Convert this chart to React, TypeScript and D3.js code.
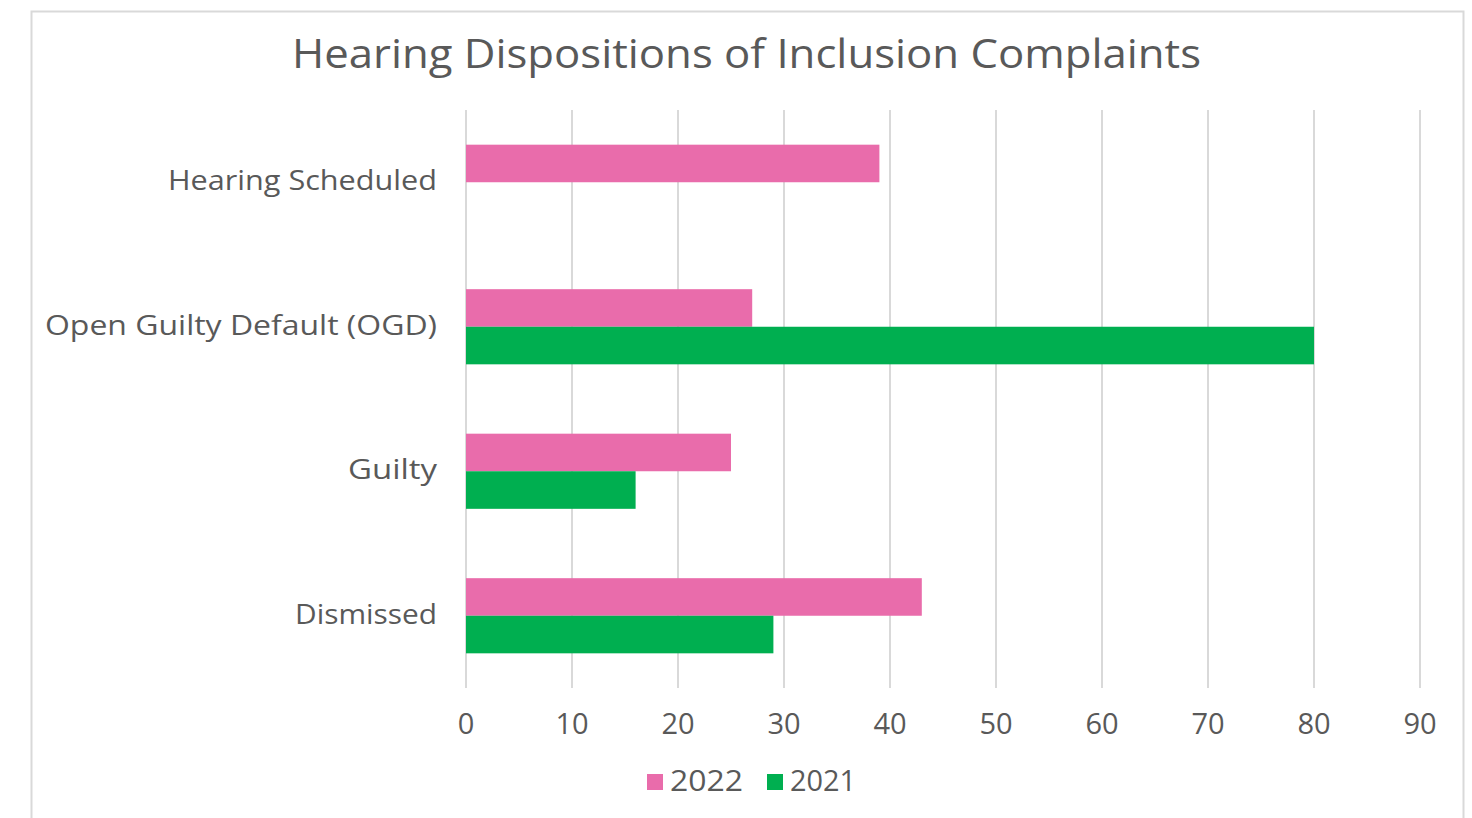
import React, { useEffect, useRef } from 'react';
import * as d3 from 'd3';

const categories = ['Hearing Scheduled', 'Open Guilty Default (OGD)', 'Guilty', 'Dismissed'];
const seriesNames = ['2022', '2021'];
const values2022 = [39, 27, 25, 43];
const values2021 = [null, 80, 16, 29];
const xTicks = [0, 10, 20, 30, 40, 50, 60, 70, 80, 90];
const colors = ['#E96CAB', '#00AF50'];

// widths of the wider original face, so Open Sans is stretched to fit
const labelWidths = [269, 392, 89, 142];
const legendWidths = [73, 66];

const W = 1472, H = 818;
const FONT = '"Open Sans", "Noto Sans", sans-serif';
const TEXT = '#595959';

export default function App() {
  const ref = useRef<SVGSVGElement>(null);

  useEffect(() => {
    const svg = d3.select(ref.current);
    svg.selectAll('*').remove();

    // outer frame
    svg.append('rect')
      .attr('x', 31.5).attr('y', 11.5).attr('width', 1432).attr('height', 830)
      .attr('fill', '#fff').attr('stroke', '#D9D9D9').attr('stroke-width', 2);

    const x = d3.scaleLinear().domain([0, 90]).range([466, 1420]);
    const y = d3.scaleBand().domain(categories).range([110, 688]).paddingInner(0.48).paddingOuter(0.24);
    const sub = d3.scaleBand().domain(seriesNames).range([0, y.bandwidth()]);

    // grid
    svg.append('g').selectAll('line').data(xTicks).join('line')
      .attr('x1', d => x(d)).attr('x2', d => x(d))
      .attr('y1', 110).attr('y2', 688)
      .attr('stroke', '#D9D9D9').attr('stroke-width', 2);

    const rows = categories.map((c, i) => ({ c, vals: [values2022[i], values2021[i]] }));
    const g = svg.append('g');
    rows.forEach(r => {
      r.vals.forEach((v, j) => {
        if (v == null) return;
        g.append('rect')
          .attr('x', x(0))
          .attr('y', (y(r.c) as number) + (sub(seriesNames[j]) as number))
          .attr('width', x(v) - x(0))
          .attr('height', sub.bandwidth())
          .attr('fill', colors[j]);
      });
    });

    // category labels
    svg.append('g').selectAll('text').data(categories).join('text')
      .attr('x', 437).attr('y', d => (y(d) as number) + y.bandwidth() / 2 - 2)
      .attr('dy', '0.35em').attr('text-anchor', 'end')
      .attr('textLength', (d, i) => labelWidths[i]).attr('lengthAdjust', 'spacingAndGlyphs')
      .attr('font-family', FONT).attr('font-size', 28).attr('fill', TEXT)
      .text(d => d);

    // x tick labels
    svg.append('g').selectAll('text').data(xTicks).join('text')
      .attr('x', d => x(d)).attr('y', 724).attr('dy', '0.35em')
      .attr('text-anchor', 'middle')
      .attr('font-family', FONT).attr('font-size', 29).attr('fill', TEXT)
      .text(d => d);

    // title
    svg.append('text')
      .attr('x', 746.5).attr('y', 54).attr('dy', '0.35em').attr('text-anchor', 'middle')
      .attr('textLength', 909).attr('lengthAdjust', 'spacingAndGlyphs')
      .attr('font-family', FONT).attr('font-size', 40).attr('fill', TEXT)
      .text('Hearing Dispositions of Inclusion Complaints');

    // legend
    const legendX = [647, 767];
    seriesNames.forEach((s, i) => {
      svg.append('rect')
        .attr('x', legendX[i]).attr('y', 774).attr('width', 16).attr('height', 16)
        .attr('fill', colors[i]);
      svg.append('text')
        .attr('x', legendX[i] + 23).attr('y', 781).attr('dy', '0.35em')
        .attr('textLength', legendWidths[i]).attr('lengthAdjust', 'spacingAndGlyphs')
        .attr('font-family', FONT).attr('font-size', 29).attr('fill', TEXT)
        .text(s);
    });
  }, []);

  return (
    <svg ref={ref} width={W} height={H}
      style={{ position: 'absolute', left: 0, top: 0, background: '#fff' }} />
  );
}
